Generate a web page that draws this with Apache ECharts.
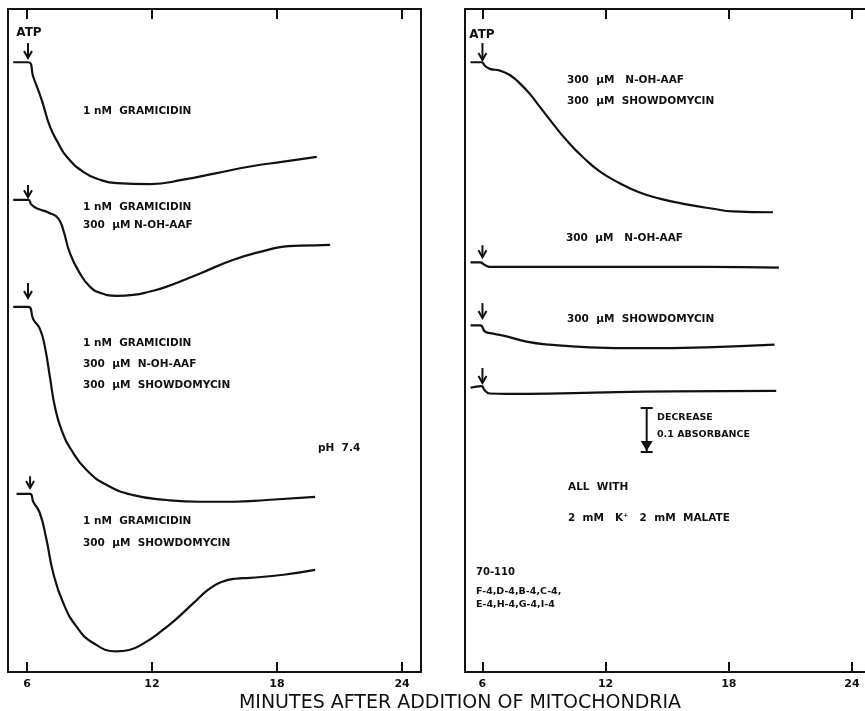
<!DOCTYPE html>
<html>
<head>
<meta charset="utf-8">
<script src="https://cdn.jsdelivr.net/npm/echarts@6/dist/echarts.min.js"></script>
<style>
  html, body { margin: 0; padding: 0; background: #fff; }
  #main { width: 865px; height: 711px; }
</style>
</head>
<body>
<div id="main"></div>
<script>
// minutes after addition of mitochondria
const tickMinutes = [6, 12, 18, 24];

// Left panel (with gramicidin). Time in minutes, absorbance change from start level.
const l1Time  = [5.34, 6.06, 6.30, 6.71, 7.10, 7.50, 7.91, 8.70, 9.50, 10.31, 11.91, 13.50, 15.11, 16.71, 18.31, 19.91];
const l1Delta = [0, 0, -0.033, -0.086, -0.146, -0.184, -0.215, -0.249, -0.267, -0.275, -0.277, -0.267, -0.252, -0.237, -0.226, -0.215];

const l2Time  = [5.34, 6.06, 6.22, 6.46, 7.10, 7.50, 7.74, 8.06, 8.54, 9.02, 9.50, 10.31, 11.10, 11.91, 12.71, 14.31, 15.91, 17.51, 18.31, 19.11, 20.55];
const l2Delta = [0, 0, -0.011, -0.019, -0.030, -0.042, -0.068, -0.121, -0.167, -0.197, -0.211, -0.218, -0.216, -0.208, -0.197, -0.167, -0.136, -0.114, -0.106, -0.104, -0.102];

const l3Time  = [5.34, 6.06, 6.30, 6.62, 6.86, 7.10, 7.34, 7.66, 8.14, 8.86, 9.83, 11.10, 12.71, 14.31, 15.91, 17.51, 19.83];
const l3Delta = [0, 0, -0.028, -0.050, -0.091, -0.159, -0.227, -0.280, -0.326, -0.371, -0.405, -0.428, -0.439, -0.443, -0.443, -0.439, -0.432];

const l4Time  = [5.50, 6.14, 6.30, 6.62, 6.94, 7.26, 7.74, 8.38, 9.18, 10.31, 10.90, 11.60, 12.40, 13.20, 14.00, 14.70, 15.30, 16.00, 16.71, 18.31, 19.83];
const l4Delta = [0, 0, -0.018, -0.044, -0.105, -0.180, -0.248, -0.302, -0.339, -0.358, -0.355, -0.340, -0.314, -0.283, -0.248, -0.218, -0.201, -0.193, -0.191, -0.184, -0.173];

// Right panel (no gramicidin)
const r1Time  = [5.42, 5.96, 6.12, 6.36, 6.85, 7.33, 7.82, 8.31, 8.79, 9.44, 10.09, 10.90, 11.71, 12.69, 13.66, 14.63, 15.93, 17.23, 18.20, 20.15];
const r1Delta = [0, 0, -0.008, -0.015, -0.019, -0.029, -0.048, -0.072, -0.101, -0.140, -0.177, -0.216, -0.248, -0.275, -0.296, -0.310, -0.323, -0.333, -0.339, -0.341];

const r2Time  = [5.42, 5.88, 6.12, 6.36, 7.18, 12.04, 16.90, 20.44];
const r2Delta = [0, 0, -0.006, -0.010, -0.010, -0.010, -0.010, -0.012];

const r3Time  = [5.42, 5.90, 6.12, 6.53, 7.18, 8.15, 9.28, 11.23, 13.66, 16.90, 20.23];
const r3Delta = [0, 0, -0.014, -0.019, -0.025, -0.037, -0.044, -0.050, -0.052, -0.050, -0.044];

const r4Time  = [5.42, 5.95, 6.10, 6.35, 7.20, 10.42, 15.28, 20.31];
const r4Delta = [0, 0.004, -0.005, -0.013, -0.014, -0.012, -0.008, -0.007];

// level (absorbance, arbitrary offset) where each trace starts, top to bottom
const leftBase  = [1.386, 1.073, 0.830, 0.405];
const rightBase = [1.386, 0.931, 0.788, 0.646];

// ATP arrows: [minute, top, tip]
const leftArrows  = [[6.05, 1.4295, 1.3955], [6.05, 1.107, 1.079], [6.05, 0.884, 0.850], [6.15, 0.445, 0.418]];
const rightArrows = [[6.0, 1.4295, 1.391], [6.0, 0.970, 0.943], [6.0, 0.8386, 0.8045], [6.0, 0.691, 0.657]];

// 0.1 absorbance scale bar: [minute, top, bottom]
const scaleBar = [[14.0, 0.60, 0.50]];

const INK = '#111';
const FONT = '"DejaVu Sans", sans-serif';

const traceData = (time, delta, base) => time.map((t, i) => [t, +(base + delta[i]).toFixed(4)]);

const traces = [
  [0, l1Time, l1Delta, leftBase[0]],
  [0, l2Time, l2Delta, leftBase[1]],
  [0, l3Time, l3Delta, leftBase[2]],
  [0, l4Time, l4Delta, leftBase[3]],
  [1, r1Time, r1Delta, rightBase[0]],
  [1, r2Time, r2Delta, rightBase[1]],
  [1, r3Time, r3Delta, rightBase[2]],
  [1, r4Time, r4Delta, rightBase[3]]
];

function renderArrow(params, api) {
  const top = api.coord([api.value(0), api.value(1)]);
  const tip = api.coord([api.value(0), api.value(2)]);
  const st = { stroke: INK, lineWidth: 2, fill: null };
  return {
    type: 'group',
    children: [
      { type: 'line', shape: { x1: top[0], y1: top[1], x2: tip[0], y2: tip[1] }, style: st },
      { type: 'polyline', shape: { points: [[tip[0] - 4, tip[1] - 7], [tip[0], tip[1]], [tip[0] + 4, tip[1] - 7]] }, style: st }
    ]
  };
}

function renderScaleBar(params, api) {
  const top = api.coord([api.value(0), api.value(1)]);
  const bot = api.coord([api.value(0), api.value(2)]);
  const x = top[0];
  const st = { stroke: INK, lineWidth: 2, fill: null };
  return {
    type: 'group',
    children: [
      { type: 'line', shape: { x1: x - 6, y1: top[1], x2: x + 6, y2: top[1] }, style: st },
      { type: 'line', shape: { x1: x, y1: top[1], x2: x, y2: bot[1] }, style: st },
      { type: 'polygon', shape: { points: [[x - 6, bot[1] - 11], [x + 6, bot[1] - 11], [x, bot[1] - 1]] }, style: { fill: INK } },
      { type: 'line', shape: { x1: x - 6, y1: bot[1], x2: x + 6, y2: bot[1] }, style: st }
    ]
  };
}

const series = traces.map(([g, time, delta, base]) => ({
  type: 'line',
  xAxisIndex: g * 2,
  yAxisIndex: g,
  data: traceData(time, delta, base),
  symbol: 'none',
  smooth: 0.5,
  silent: true,
  lineStyle: { color: INK, width: 2.2 }
}));
series.push(
  { type: 'custom', xAxisIndex: 0, yAxisIndex: 0, data: leftArrows, renderItem: renderArrow, silent: true },
  { type: 'custom', xAxisIndex: 2, yAxisIndex: 1, data: rightArrows, renderItem: renderArrow, silent: true },
  { type: 'custom', xAxisIndex: 2, yAxisIndex: 1, data: scaleBar, renderItem: renderScaleBar, silent: true }
);

const frameLine = { show: true, onZero: false, lineStyle: { color: INK, width: 2 } };

// the right panel runs off the page, so its frame is drawn from axis lines (no right edge)
function xAxis(grid, pos, min, max) {
  return {
    type: 'value', gridIndex: grid, position: pos, min: min, max: max,
    axisLine: grid === 1 ? frameLine : { show: false },
    splitLine: { show: false },
    axisTick: { inside: true, length: 10, customValues: tickMinutes, lineStyle: { color: INK, width: 2 } },
    axisLabel: {
      show: pos === 'bottom', customValues: tickMinutes, margin: 7,
      color: INK, fontSize: 11, fontWeight: 'bold', fontFamily: FONT
    }
  };
}

const yAxis = grid => ({
  type: 'value', gridIndex: grid, min: 0, max: 1.507, position: 'left',
  axisLine: grid === 1 ? frameLine : { show: false },
  axisTick: { show: false }, axisLabel: { show: false }, splitLine: { show: false }
});

const textStyle = (size, weight) => ({ font: `${weight} ${size}px ${FONT}`, fill: INK, verticalAlign: 'middle' });
const label = (x, y, text, size = 10.5, align = 'left', weight = 'bold') => ({
  type: 'text', x: x, y: y, silent: true,
  style: Object.assign({ text: text, align: align }, textStyle(size, weight))
});

const graphic = [
  label(29, 33, 'ATP', 12, 'center'),
  label(83, 111, '1 nM  GRAMICIDIN'),
  label(83, 207, '1 nM  GRAMICIDIN'),
  label(83, 225, '300  µM N-OH-AAF'),
  label(83, 343, '1 nM  GRAMICIDIN'),
  label(83, 364, '300  µM  N-OH-AAF'),
  label(83, 385, '300  µM  SHOWDOMYCIN'),
  label(318, 448, 'pH  7.4'),
  label(83, 521, '1 nM  GRAMICIDIN'),
  label(83, 543, '300  µM  SHOWDOMYCIN'),
  label(482, 35, 'ATP', 12, 'center'),
  label(567, 80, '300  µM   N-OH-AAF'),
  label(567, 101, '300  µM  SHOWDOMYCIN'),
  label(566, 238, '300  µM   N-OH-AAF'),
  label(567, 319, '300  µM  SHOWDOMYCIN'),
  label(657, 418, 'DECREASE', 9.5),
  label(657, 435, '0.1 ABSORBANCE', 9.5),
  label(568, 487, 'ALL  WITH'),
  label(568, 518, '2  mM   K⁺   2  mM  MALATE'),
  label(476, 572, '70-110', 10),
  label(476, 592, 'F-4,D-4,B-4,C-4,', 9.5),
  label(476, 605, 'E-4,H-4,G-4,I-4', 9.5),
  label(460, 703, 'MINUTES AFTER ADDITION OF MITOCHONDRIA', 19, 'center', 'normal')
];

const chart = echarts.init(document.getElementById('main'), null, { renderer: 'canvas' });
chart.setOption({
  animation: false,
  backgroundColor: '#fff',
  grid: [
    { left: 8, top: 9, width: 413, height: 663, show: true, borderColor: INK, borderWidth: 2, outerBoundsMode: 'none' },
    { left: 465, top: 9, width: 404, height: 663, show: false, outerBoundsMode: 'none' }
  ],
  xAxis: [
    xAxis(0, 'bottom', 5.09, 24.91),
    xAxis(0, 'top', 5.09, 24.91),
    xAxis(1, 'bottom', 5.15, 24.83),
    xAxis(1, 'top', 5.15, 24.83)
  ],
  yAxis: [yAxis(0), yAxis(1)],
  series: series,
  graphic: graphic
});
</script>
</body>
</html>
